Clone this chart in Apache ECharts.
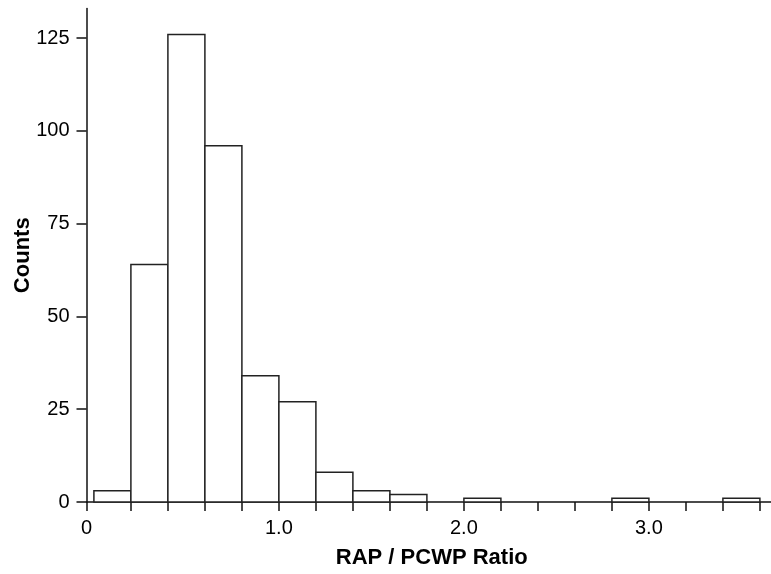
<!DOCTYPE html>
<html>
<head>
<meta charset="utf-8">
<script src="https://cdn.jsdelivr.net/npm/echarts@6/dist/echarts.min.js"></script>
<style>
html,body{margin:0;padding:0;background:#fff;}
#chart{width:771px;height:574px;}
</style>
</head>
<body>
<div id="chart"></div>
<script>
// Histogram bin edges (RAP / PCWP ratio) and counts per bin
const binEdges = [0, 0.2, 0.4, 0.6, 0.8, 1.0, 1.2, 1.4, 1.6, 1.8, 2.0, 2.2, 2.4, 2.6, 2.8, 3.0, 3.2, 3.4, 3.6];
const counts   = [3, 64, 126, 96, 34, 27, 8, 3, 2, 0, 1, 0, 0, 0, 1, 0, 0, 1];

// Axis ranges and tick marks
const xMin = -0.04;
const xMax = 3.66;
const xTickValues = [-0.04, 0.2, 0.4, 0.6, 0.8, 1.0, 1.2, 1.4, 1.6, 1.8, 2.0, 2.2, 2.4, 2.6, 2.8, 3.0, 3.2, 3.4, 3.6];
const xLabelValues = [-0.04, 1, 2, 3];
const xLabelTexts = ['0', '1.0', '2.0', '3.0'];
const yMin = 0;
const yMax = 133;
const yTickValues = [0, 25, 50, 75, 100, 125];

const FONT = 'Liberation Sans, Arial, Helvetica, sans-serif';

const histData = [];
for (let i = 0; i < counts.length; i++) {
  if (counts[i] > 0) histData.push([binEdges[i], binEdges[i + 1], counts[i]]);
}

const chart = echarts.init(document.getElementById('chart'), null, {renderer: 'canvas'});
chart.setOption({
  animation: false,
  backgroundColor: '#fff',
  grid: {left: 86.5, right: 0, top: 8.5, bottom: 69.5, containLabel: false},
  xAxis: {
    type: 'value',
    min: xMin,
    max: xMax,
    name: 'RAP / PCWP Ratio',
    nameLocation: 'middle',
    nameGap: 45,
    nameMoveOverlap: false,
    nameTextStyle: {fontFamily: FONT, fontWeight: 'bold', fontSize: 22, color: '#000', padding: [0, 0, 0, 6]},
    axisLine: {show: true, onZero: false, lineStyle: {color: '#111', width: 1.5}},
    axisTick: {show: true, length: 9, inside: false, customValues: xTickValues, lineStyle: {color: '#111', width: 1.5}},
    axisLabel: {
      show: true, margin: 16, customValues: xLabelValues,
      fontFamily: FONT, fontSize: 20, color: '#000',
      formatter: function (v) {
        for (let i = 0; i < xLabelValues.length; i++) {
          if (Math.abs(v - xLabelValues[i]) < 1e-6) return xLabelTexts[i];
        }
        return '';
      }
    },
    splitLine: {show: false}
  },
  yAxis: {
    type: 'value',
    min: yMin,
    max: yMax,
    name: 'Counts',
    nameLocation: 'middle',
    nameGap: 53,
    nameMoveOverlap: false,
    nameTextStyle: {fontFamily: FONT, fontWeight: 'bold', fontSize: 22, color: '#000'},
    axisLine: {show: true, onZero: false, lineStyle: {color: '#111', width: 1.5}},
    axisTick: {show: true, length: 10, inside: false, customValues: yTickValues, lineStyle: {color: '#111', width: 1.5}},
    axisLabel: {show: true, margin: 17, customValues: yTickValues, fontFamily: FONT, fontSize: 20, color: '#000'},
    splitLine: {show: false}
  },
  series: [{
    type: 'custom',
    data: histData,
    encode: {x: [0, 1], y: 2},
    renderItem: function (params, api) {
      const x0 = api.value(0), x1 = api.value(1), c = api.value(2);
      const p0 = api.coord([x0, c]);
      const p1 = api.coord([x1, 0]);
      return {
        type: 'rect',
        shape: {x: p0[0], y: p0[1], width: p1[0] - p0[0], height: p1[1] - p0[1]},
        style: {fill: '#fff', stroke: '#222', lineWidth: 1.5}
      };
    }
  }]
});
</script>
</body>
</html>
